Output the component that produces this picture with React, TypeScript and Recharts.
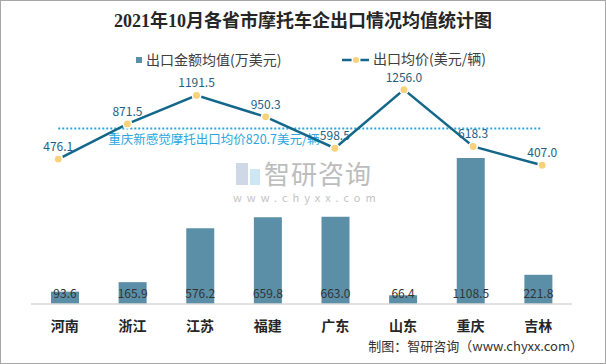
import React from "react";
import {
  ComposedChart,
  Bar,
  Line,
  XAxis,
  YAxis,
  LabelList,
  ReferenceLine,
} from "recharts";

const provinces = ["河南", "浙江", "江苏", "福建", "广东", "山东", "重庆", "吉林"];
const amountValues = [93.6, 165.9, 576.2, 659.8, 663.0, 66.4, 1108.5, 221.8];
const priceValues = [476.1, 871.5, 1191.5, 950.3, 598.5, 1256.0, 618.3, 407.0];
const benchmarkPrice = 820.7;
const benchmarkName = "重庆新感觉摩托";

const data = provinces.map((name, i) => ({
  name,
  amount: amountValues[i],
  price: priceValues[i],
}));

const FONT = '"Noto Sans CJK SC", "Noto Sans", sans-serif';
const BAR_COLOR = "#5b8fa8";
const LINE_COLOR = "#13678a";
const DOT_COLOR = "#f7d27a";
const REF_COLOR = "#2aa7df";

// eslint-disable-next-line @typescript-eslint/no-explicit-any
function PriceDot(props: any) {
  const { cx, cy } = props;
  return <circle cx={cx} cy={cy} r={4.2} fill={DOT_COLOR} stroke="#fff" strokeWidth={1.5} />;
}

// eslint-disable-next-line @typescript-eslint/no-explicit-any
function BenchmarkLabel({ viewBox }: any) {
  if (!viewBox) return null;
  return (
    <text
      x={viewBox.x + 50}
      y={viewBox.y + 16}
      fill={REF_COLOR}
      fontSize={12.5}
      fontFamily={FONT}
    >
      {`${benchmarkName}出口均价${benchmarkPrice}美元/辆`}
    </text>
  );
}

export default function App() {
  return (
    <div
      style={{
        position: "absolute",
        left: 0,
        top: 0,
        width: 606,
        height: 364,
        background: "#fff",
        fontFamily: FONT,
        overflow: "hidden",
      }}
    >
      <div
        style={{
          position: "absolute",
          top: 9,
          left: 0,
          width: 606,
          textAlign: "center",
          fontFamily: '"Liberation Serif", "Noto Sans CJK SC", serif',
          fontWeight: "bold",
          fontSize: 18,
          lineHeight: "24px",
          color: "#262626",
        }}
      >
        2021年10月各省市摩托车企出口情况均值统计图
      </div>

      {/* legend */}
      <div style={{ position: "absolute", left: 136, top: 57, width: 6, height: 6, background: BAR_COLOR }} />
      <div style={{ position: "absolute", left: 146, top: 51, fontSize: 14, lineHeight: "16px", color: "#404040" }}>
        出口金额均值(万美元)
      </div>
      <svg style={{ position: "absolute", left: 340, top: 54 }} width={32} height={12}>
        <line x1={2} y1={6} x2={29} y2={6} stroke={LINE_COLOR} strokeWidth={2.5} />
        <circle cx={16} cy={6} r={3.8} fill={DOT_COLOR} stroke="#fff" strokeWidth={1.5} />
      </svg>
      <div style={{ position: "absolute", left: 373, top: 51, fontSize: 14, lineHeight: "15px", color: "#404040" }}>
        出口均价(美元/辆)
      </div>

      {/* watermark */}
      <div
        style={{
          position: "absolute",
          left: 264,
          top: 160,
          fontSize: 26,
          lineHeight: "26px",
          letterSpacing: 1,
          color: "#bdbdbd",
        }}
      >
        智研咨询
      </div>
      <div style={{ position: "absolute", left: 236, top: 163, width: 24, height: 22, opacity: 0.5 }}>
        <div style={{ position: "absolute", left: 0, top: 0, width: 12, height: 22, background: "#9fb2cf" }} />
        <div style={{ position: "absolute", left: 14, top: 6, width: 10, height: 16, background: "#9fd0ea" }} />
      </div>
      <div
        style={{
          position: "absolute",
          left: 233,
          top: 191,
          fontSize: 11,
          lineHeight: "12px",
          letterSpacing: 5,
          color: "#c4c4c4",
        }}
      >
        www.chyxx.com
      </div>

      <ComposedChart
        width={606}
        height={364}
        data={data}
        margin={{ top: 67, right: 34, left: 31, bottom: 0 }}
        style={{ position: "absolute", left: 0, top: 0 }}
      >
        <XAxis
          xAxisId="bar"
          dataKey="name"
          height={60}
          tickLine={false}
          tickMargin={11}
          axisLine={{ stroke: "#d9d9d9", strokeWidth: 1.5 }}
          tick={{ fontSize: 14, fontWeight: "bold", fill: "#262626", fontFamily: FONT }}
          interval={0}
        />
        <XAxis xAxisId="line" dataKey="name" hide padding={{ left: -7.3, right: -4.8 }} />
        <YAxis yAxisId="bar" hide domain={[0, 1800]} />
        <YAxis yAxisId="line" hide domain={[-1150, 1510]} />
        <Bar
          xAxisId="bar"
          yAxisId="bar"
          dataKey="amount"
          barSize={28}
          fill={BAR_COLOR}
          isAnimationActive={false}
        >
          <LabelList
            dataKey="amount"
            position="insideBottom"
            offset={6}
            fill="#333"
            fontSize={12}
            fontFamily={FONT}
            formatter={(v: number) => v.toFixed(1)}
          />
        </Bar>
        <ReferenceLine
          xAxisId="line"
          yAxisId="line"
          segment={[
            { x: provinces[0], y: benchmarkPrice },
            { x: provinces[provinces.length - 1], y: benchmarkPrice },
          ]}
          stroke={REF_COLOR}
          strokeWidth={2}
          strokeDasharray="2 2"
          label={<BenchmarkLabel />}
        />
        <Line
          xAxisId="line"
          yAxisId="line"
          dataKey="price"
          stroke={LINE_COLOR}
          strokeWidth={2.5}
          dot={<PriceDot />}
          activeDot={false}
          isAnimationActive={false}
        >
          <LabelList
            dataKey="price"
            position="top"
            offset={8}
            fill="#245e82"
            fontSize={12}
            fontFamily={FONT}
            formatter={(v: number) => v.toFixed(1)}
          />
        </Line>
      </ComposedChart>

      <div
        style={{
          position: "absolute",
          right: 23,
          top: 337,
          fontSize: 13,
          lineHeight: "18px",
          color: "#333",
        }}
      >
        制图：智研咨询（www.chyxx.com）
      </div>

      <div
        style={{
          position: "absolute",
          left: 0,
          top: 0,
          width: 606,
          height: 364,
          boxSizing: "border-box",
          border: "1px solid #a6a6a6",
          pointerEvents: "none",
        }}
      />
    </div>
  );
}
